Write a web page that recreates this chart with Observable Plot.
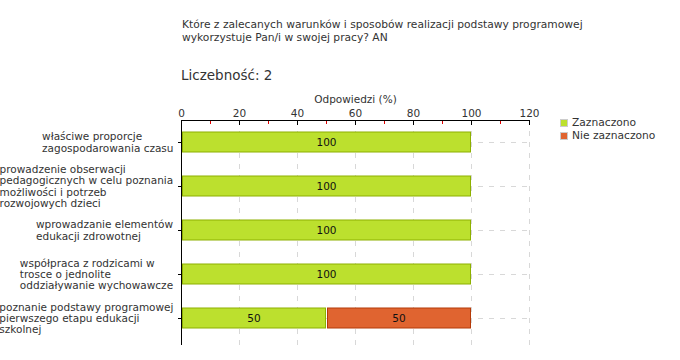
<!DOCTYPE html>
<html>
<head>
<meta charset="utf-8">
<script src="https://cdn.jsdelivr.net/npm/d3@7"></script>
<script src="https://cdn.jsdelivr.net/npm/@observablehq/plot@0.6"></script>
<style>
  html, body { margin: 0; padding: 0; background: #fff; }
  #wrap { position: relative; width: 680px; height: 360px; font-family: "DejaVu Sans", Verdana, sans-serif; color: #333; }
  #title { position: absolute; left: 182px; top: 19px; font-size: 10.7px; line-height: 12.5px; white-space: pre; }
  #count { position: absolute; left: 181px; top: 67px; font-size: 13.5px; white-space: pre; }
  #legend { position: absolute; left: 560px; top: 117px; font-size: 10.7px; line-height: 12.5px; }
  #legend .item { display: flex; align-items: center; white-space: pre; }
  #legend .sw { width: 6px; height: 6px; margin-right: 4px; border: 1px solid #ccc; box-sizing: content-box; }
  #chart { position: absolute; left: 0; top: 0; }
</style>
</head>
<body>
<div id="wrap">
  <div id="chart"></div>
  <div id="title"></div>
  <div id="count"></div>
  <div id="legend"></div>
</div>
<script>
const titleText = "Które z zalecanych warunków i sposobów realizacji podstawy programowej\nwykorzystuje Pan/i w swojej pracy? AN";
const countText = "Liczebność: 2";
const axisLabel = "Odpowiedzi (%)";
const categories = [
  "właściwe proporcje\nzagospodarowania czasu",
  "prowadzenie obserwacji\npedagogicznych w celu poznania\nmożliwości i potrzeb\nrozwojowych dzieci",
  "wprowadzanie elementów\nedukacji zdrowotnej",
  "współpraca z rodzicami w\ntrosce o jednolite\noddziaływanie wychowawcze",
  "poznanie podstawy programowej\npierwszego etapu edukacji\nszkolnej"
];
const seriesNames = ["Zaznaczono", "Nie zaznaczono"];
const zaznaczono = [100, 100, 100, 100, 50];
const nieZaznaczono = [0, 0, 0, 0, 50];
const seriesColors = ["#bce02e", "#e06430"];
const seriesStrokes = ["#8db000", "#b43a08"];
const majorTicks = [0, 20, 40, 60, 80, 100, 120];
const minorTicks = [10, 30, 50, 70, 90, 110];

const data = [];
categories.forEach((c, i) => {
  data.push({cat: c, series: seriesNames[0], value: zaznaczono[i]});
  data.push({cat: c, series: seriesNames[1], value: nieZaznaczono[i]});
});
const shown = data.filter(d => d.value > 0);

document.getElementById("title").textContent = titleText;
document.getElementById("count").textContent = countText;
const legend = document.getElementById("legend");
seriesNames.forEach((s, i) => {
  const it = document.createElement("div");
  it.className = "item";
  const sw = document.createElement("span");
  sw.className = "sw";
  sw.style.background = seriesColors[i];
  it.appendChild(sw);
  it.appendChild(document.createTextNode(s));
  legend.appendChild(it);
});

const chart = Plot.plot({
  width: 680,
  height: 360,
  marginTop: 120,
  marginLeft: 181,
  marginRight: 151,
  marginBottom: 15,
  style: {fontFamily: "DejaVu Sans, Verdana, sans-serif", fontSize: "10.5px", color: "#333", background: "transparent"},
  x: {domain: [0, 120]},
  y: {domain: categories, range: [120, 340], padding: 0},
  color: {domain: seriesNames, range: seriesColors},
  marks: [
    Plot.gridX(majorTicks.slice(1), {stroke: "#d8d8d8", strokeOpacity: 1, strokeDasharray: "5,6"}),
    Plot.gridY({stroke: "#d8d8d8", strokeOpacity: 1, strokeDasharray: "5,6"}),
    Plot.barX(shown, Plot.stackX({
      y: "cat", x: "value", fill: "series",
      stroke: d => seriesStrokes[seriesNames.indexOf(d.series)],
      insetTop: 12, insetBottom: 12, insetLeft: 1.5, insetRight: 0.5
    })),
    Plot.text(shown, Plot.stackX({
      y: "cat", x: "value", text: d => String(d.value), fill: "#111", fontSize: 10.5
    })),
    Plot.ruleX([0], {stroke: "#000"}),
    Plot.axisX(minorTicks, {anchor: "top", tickSize: -3, stroke: "#e00000", tickFormat: () => "", label: null}),
    Plot.axisX(majorTicks, {anchor: "top", tickSize: -4, tickPadding: 8, stroke: "#000", color: "#333", label: axisLabel, labelAnchor: "center", labelArrow: "none", labelOffset: 25}),
    Plot.frame({anchor: "top", stroke: "#000"}),
    Plot.axisY({anchor: "left", tickSize: 3, tickPadding: 5, stroke: "#000", label: null, lineHeight: 1.08})
  ]
});
document.getElementById("chart").appendChild(chart);

// left-align the lines of each y tick label inside a right-justified block
const yAxis = chart.querySelectorAll('g[aria-label="y-axis tick label"] text');
yAxis.forEach(t => {
  const bb = t.getBBox();
  t.setAttribute("text-anchor", "start");
  const tr = t.getAttribute("transform") || "";
  t.setAttribute("transform", tr + ` translate(${-bb.width},0)`);
});
</script>
</body>
</html>
